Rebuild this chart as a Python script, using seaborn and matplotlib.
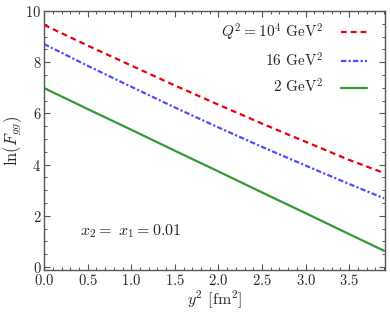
import numpy as np
import pandas as pd
import seaborn as sns
import matplotlib
matplotlib.use("Agg")
import matplotlib.pyplot as plt
from matplotlib.ticker import MultipleLocator

y2 = [0.0, 0.5, 1.0, 1.5, 2.0, 2.5, 3.0, 3.5, 3.9]
lnF_Q10000 = [9.46, 8.65, 7.87, 7.09, 6.34, 5.60, 4.89, 4.18, 3.67]
lnF_Q16 = [8.71, 7.86, 7.04, 6.23, 5.45, 4.69, 3.96, 3.24, 2.68]
lnF_Q2 = [6.99, 6.17, 5.36, 4.54, 3.73, 2.91, 2.10, 1.28, 0.63]
labels = [r"$Q^2 = 10^4$ GeV$^2$", r"16 GeV$^2$", r"2 GeV$^2$"]

sns.set_theme(style="ticks")
plt.rcParams["font.family"] = ["cmr10"]
plt.rcParams["mathtext.fontset"] = "cm"
plt.rcParams["axes.formatter.use_mathtext"] = True

fig = plt.figure(figsize=(3.9, 3.15), dpi=100)
ax = fig.add_axes([0.113, 0.143, 0.874, 0.822])

series = [lnF_Q10000, lnF_Q16, lnF_Q2]
colors = ["#e8000b", "#4d4dff", "#339933"]
styles = [(0, (2.6, 1.8)), (0, (2.4, 1.0, 1.0, 1.0)), "-"]
for vals, lab, col, ls in zip(series, labels, colors, styles):
    df = pd.DataFrame({"y2": y2, "lnF": vals})
    sns.lineplot(data=df, x="y2", y="lnF", ax=ax, color=col, linestyle=ls,
                 linewidth=1.6, label=lab)

ax.set_xlim(0, 3.91)
ax.set_ylim(-0.12, 10)
ax.xaxis.set_major_locator(MultipleLocator(0.5))
ax.xaxis.set_minor_locator(MultipleLocator(0.1))
ax.yaxis.set_major_locator(MultipleLocator(2))
ax.yaxis.set_minor_locator(MultipleLocator(0.5))
ax.tick_params(which="both", direction="in", top=True, right=True,
               color="#555555", labelsize=10.5, pad=2)
ax.tick_params(which="major", length=4.5, width=0.8)
ax.tick_params(which="minor", length=2.2, width=0.7)
for s in ax.spines.values():
    s.set_color("#555555")
    s.set_linewidth(1.0)

ax.set_xlabel(r"$y^2$ [fm$^2$]", fontsize=11.5, labelpad=1)
ax.set_ylabel(r"$\ln(F_{gg})$", fontsize=12, labelpad=1)
ax.text(0.41, 1.25, r"$x_2 = \ x_1 = 0.01$", fontsize=11.5)

ax.legend(loc="upper right", bbox_to_anchor=(0.98, 1.0), frameon=False,
          markerfirst=False, fontsize=11,
          handlelength=1.7, handletextpad=1.2, labelspacing=0.55,
          borderaxespad=0.3, borderpad=0.4)

fig.savefig("out.png", dpi=100)
